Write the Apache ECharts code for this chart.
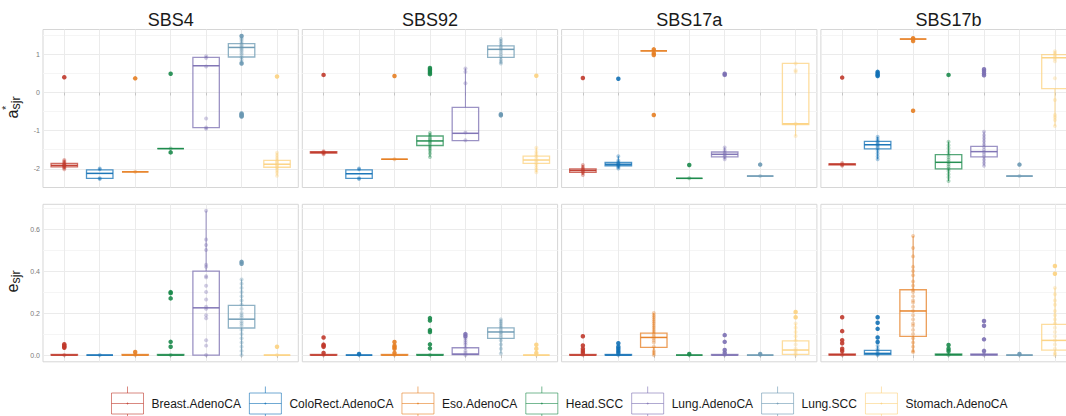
<!DOCTYPE html>
<html><head><meta charset="utf-8">
<script src="https://cdn.jsdelivr.net/npm/echarts@6/dist/echarts.min.js"></script>
<style>html,body{margin:0;padding:0;background:#fff}#c{width:1066px;height:416px}</style>
</head><body><div id="c"></div>
<script>
// ---------- DATA ----------
const categories = ['Breast.AdenoCA','ColoRect.AdenoCA','Eso.AdenoCA','Head.SCC','Lung.AdenoCA','Lung.SCC','Stomach.AdenoCA'];
const signatures = ['SBS4','SBS92','SBS17a','SBS17b'];
const aTicks = [-2,-1,0,1];
const aMinor = [-1.5,-0.5,0.5,1.5];
const eTicks = [0,0.2,0.4,0.6];
const eMinor = [0.1,0.3,0.5,0.7];

// box stats per category: [low, Q1, median, Q3, high]
const aBoxSBS4 = [[-2.00,-1.95,-1.91,-1.86,-1.78],[-2.28,-2.25,-2.12,-2.03,-1.99],[-2.08,-2.08,-2.08,-2.08,-2.08],[-1.47,-1.47,-1.47,-1.47,-1.47],[-0.95,-0.92,0.70,0.92,0.95],[0.78,0.93,1.18,1.28,1.45],[-2.18,-1.96,-1.88,-1.78,-1.58]];
const aBoxSBS92 = [[-1.62,-1.59,-1.57,-1.55,-1.54],[-2.27,-2.25,-2.13,-2.03,-1.99],[-1.75,-1.75,-1.75,-1.75,-1.75],[-1.69,-1.39,-1.27,-1.14,-1.06],[-1.27,-1.26,-1.07,-0.39,0.63],[0.76,0.92,1.13,1.22,1.40],[-2.09,-1.86,-1.77,-1.67,-1.45]];
const aBoxSBS17a = [[-2.16,-2.09,-2.04,-2.00,-1.90],[-1.99,-1.92,-1.88,-1.83,-1.67],[1.09,1.09,1.09,1.09,1.09],[-2.25,-2.25,-2.25,-2.25,-2.25],[-1.75,-1.69,-1.62,-1.56,-1.44],[-2.19,-2.19,-2.19,-2.19,-2.19],[-1.14,-0.84,-0.82,0.76,0.76]];
const aBoxSBS17b = [[-1.92,-1.90,-1.88,-1.87,-1.85],[-1.75,-1.48,-1.37,-1.28,-1.16],[1.40,1.40,1.40,1.40,1.40],[-2.32,-2.00,-1.83,-1.63,-1.29],[-1.92,-1.69,-1.55,-1.41,-1.03],[-2.19,-2.19,-2.19,-2.19,-2.19],[-0.88,0.10,0.91,0.99,1.08]];

const eBoxSBS4 = [[0,0,0,0.003,0.005],[0,0,0,0,0],[0,0,0,0.003,0.005],[0,0,0,0.003,0.005],[0,0,0.225,0.40,0.687],[0,0.129,0.171,0.237,0.36],[0,0,0,0,0]];
const eBoxSBS92 = [[0,0,0,0.003,0.005],[0,0,0,0,0],[0,0,0,0.003,0.005],[0,0,0,0.003,0.005],[0,0.002,0.005,0.035,0.085],[0.008,0.08,0.11,0.13,0.17],[0,0,0,0,0]];
const eBoxSBS17a = [[0,0,0,0.003,0.005],[0,0,0,0.003,0.005],[0,0.037,0.084,0.105,0.20],[0,0,0,0,0],[0,0,0,0.003,0.005],[0,0,0,0,0],[0,0.003,0.024,0.068,0.15]];
const eBoxSBS17b = [[0,0,0.002,0.005,0.01],[0,0.002,0.008,0.022,0.045],[0.014,0.089,0.21,0.311,0.567],[0,0,0.002,0.005,0.01],[0,0,0.002,0.005,0.01],[0,0,0,0,0],[0,0.024,0.07,0.146,0.32]];

// observed points per category
const aPtsSBS4 = [
 [0.40,-1.77,-1.80,-1.83,-1.86,-1.88,-1.90,-1.91,-1.92,-1.94,-1.96,-1.98,-2.01],
 [-1.99,-2.01,-2.25,-2.27],
 [0.37,-2.08],
 [0.49,-1.47,-1.57],
 [0.95,0.90,0.68,-0.68,-0.92,-0.95],
 [1.48,1.42,1.38,1.33,1.28,1.24,1.20,1.16,1.12,1.08,1.03,0.98,0.92,0.86,0.80,0.76,-0.55,-0.58,-0.61,-0.63],
 [0.42,-1.58,-1.65,-1.72,-1.78,-1.82,-1.86,-1.90,-1.94,-1.98,-2.04,-2.10,-2.18]];
const aPtsSBS92 = [
 [0.46,-1.54,-1.56,-1.58,-1.60,-1.62],
 [-1.99,-2.01,-2.25,-2.27],
 [0.43,-1.75],
 [0.64,0.60,0.56,0.52,0.48,-1.06,-1.12,-1.18,-1.22,-1.26,-1.30,-1.34,-1.40,-1.46,-1.52,-1.60,-1.69],
 [0.63,0.54,0.24,-1.05,-1.25],
 [1.40,1.34,1.28,1.22,1.17,1.12,1.06,1.00,0.94,0.86,0.80,0.76,-0.57,-0.60],
 [0.44,-1.45,-1.55,-1.62,-1.68,-1.74,-1.79,-1.84,-1.90,-1.97,-2.03,-2.09]];
const aPtsSBS17a = [
 [0.38,-1.90,-1.95,-1.99,-2.02,-2.05,-2.08,-2.11,-2.16],
 [0.36,-1.67,-1.78,-1.83,-1.86,-1.88,-1.90,-1.93,-1.96,-1.99],
 [1.13,1.09,1.03,0.98,-0.59],
 [-1.90,-2.25],
 [0.49,0.46,-1.44,-1.52,-1.58,-1.62,-1.66,-1.70,-1.75],
 [-1.89,-2.19],
 [0.76,0.58,0.54,-0.82,-1.14]];
const aPtsSBS17b = [
 [0.39,-1.85,-1.88,-1.90,-1.92],
 [0.54,0.50,0.46,0.43,-1.16,-1.22,-1.27,-1.31,-1.35,-1.38,-1.42,-1.46,-1.52,-1.60,-1.68,-1.75],
 [1.42,1.40,1.35,-0.48],
 [0.46,-1.29,-1.38,-1.46,-1.55,-1.63,-1.70,-1.76,-1.82,-1.88,-1.94,-2.00,-2.06,-2.14,-2.22,-2.32],
 [0.61,0.56,0.50,0.45,-1.03,-1.12,-1.20,-1.28,-1.36,-1.43,-1.50,-1.56,-1.62,-1.68,-1.76,-1.84,-1.92],
 [-1.89,-2.19],
 [1.08,1.03,0.98,0.93,0.88,0.82,0.37,-0.20,-0.59,-0.65,-0.72,-0.88]];

const ePtsSBS4 = [
 [0,0.035,0.040,0.045,0.052],
 [0],
 [0,0.008,0.015],
 [0,0.04,0.063,0.27,0.295,0.30],
 [0.687,0.55,0.524,0.50,0.43,0.42,0.376,0.37,0.33,0.30,0.265,0.23,0.22,0.19,0.175,0.071,0.045,0],
 [0.444,0.435,0.36,0.34,0.32,0.30,0.28,0.26,0.24,0.22,0.20,0.19,0.18,0.16,0.15,0.14,0.12,0.10,0.08,0.06,0.04,0.02,0],
 [0,0.04]];
const ePtsSBS92 = [
 [0,0.01,0.04,0.045,0.05,0.084],
 [0,0.005],
 [0,0.01,0.03,0.037,0.045,0.062],
 [0,0.032,0.051,0.11,0.119,0.165,0.176],
 [0,0.01,0.02,0.035,0.05,0.06,0.07,0.08,0.09,0.10],
 [0.008,0.03,0.05,0.07,0.085,0.095,0.105,0.11,0.12,0.13,0.14,0.15,0.16,0.17],
 [0,0.01,0.03,0.049]];
const ePtsSBS17a = [
 [0,0.01,0.02,0.03,0.046,0.09],
 [0,0.01,0.02,0.03,0.04,0.056],
 [0,0.01,0.02,0.04,0.06,0.07,0.08,0.09,0.10,0.11,0.12,0.13,0.14,0.15,0.16,0.17,0.18,0.19,0.20],
 [0,0.005],
 [0,0.01,0.024,0.063,0.095],
 [0,0.005],
 [0,0.01,0.02,0.03,0.05,0.07,0.09,0.11,0.13,0.15,0.18,0.205]];
const ePtsSBS17b = [
 [0,0.01,0.02,0.03,0.056,0.071,0.114,0.18],
 [0,0.005,0.01,0.02,0.03,0.045,0.062,0.084,0.125,0.154,0.18],
 [0.567,0.51,0.47,0.42,0.40,0.38,0.35,0.33,0.31,0.30,0.28,0.26,0.25,0.23,0.21,0.19,0.17,0.15,0.14,0.12,0.10,0.08,0.06,0.04,0.02,0.014],
 [0,0.01,0.02,0.03,0.048],
 [0,0.01,0.02,0.075,0.14,0.162],
 [0,0.005],
 [0.424,0.387,0.32,0.29,0.26,0.24,0.21,0.19,0.17,0.15,0.13,0.11,0.09,0.07,0.05,0.03,0.01,0]];

// ---------- STYLE ----------
const colors = ['#C0392B','#1170B5','#E67E22','#1B8A4B','#7B6FB2','#6A98B2','#FCD27F'];
const FONT = 'Liberation Sans, Arial, sans-serif';
const colLeft = [43, 302.3, 561.6, 820.9];
const colW = 255.3;
const rowTop = [29.5, 204.3];
const rowH = [158, 157.5];

const rows = [
  {boxes:[aBoxSBS4,aBoxSBS92,aBoxSBS17a,aBoxSBS17b], pts:[aPtsSBS4,aPtsSBS92,aPtsSBS17a,aPtsSBS17b], min:-2.49, max:1.65, ticks:aTicks, minor:aMinor, fmt:v=>String(v)},
  {boxes:[eBoxSBS4,eBoxSBS92,eBoxSBS17a,eBoxSBS17b], pts:[ePtsSBS4,ePtsSBS92,ePtsSBS17a,ePtsSBS17b], min:-0.032, max:0.718, ticks:eTicks, minor:eMinor, fmt:v=>Number(v).toFixed(1)}
];

function renderBox(params, api) {
  const x = api.value(0);
  const col = colors[api.value(6)];
  const half = api.size([1, 0])[0] * 0.373;
  const pLow = api.coord([x, api.value(1)]);
  const pQ1 = api.coord([x, api.value(2)]);
  const pMed = api.coord([x, api.value(3)]);
  const pQ3 = api.coord([x, api.value(4)]);
  const pHigh = api.coord([x, api.value(5)]);
  const cx = pMed[0];
  const lineS = {stroke: col, lineWidth: 1, opacity: 0.8};
  return {type: 'group', children: [
    {type: 'line', shape: {x1: cx, y1: pHigh[1], x2: cx, y2: pQ3[1]}, style: lineS},
    {type: 'line', shape: {x1: cx, y1: pQ1[1], x2: cx, y2: pLow[1]}, style: lineS},
    {type: 'rect', shape: {x: cx - half, y: pQ3[1], width: 2 * half, height: pQ1[1] - pQ3[1]}, style: {fill: 'none', stroke: col, lineWidth: 1.3, opacity: 0.75}},
    {type: 'line', shape: {x1: cx - half, y1: pMed[1], x2: cx + half, y2: pMed[1]}, style: {stroke: col, lineWidth: 1.5, opacity: 0.95}}
  ]};
}

const grid = [], xAxis = [], yAxis = [], series = [], graphic = [];
rows.forEach((row, r) => {
  const customY = row.ticks.concat(row.minor).sort((a, b) => a - b);
  signatures.forEach((sig, c) => {
    const g = r * 4 + c;
    grid.push({left: colLeft[c], top: rowTop[r], width: colW, height: rowH[r], show: true,
      borderColor: '#D6D6D6', borderWidth: 1, backgroundColor: '#fff', containLabel: false, outerBoundsMode: 'none'});
    xAxis.push({type: 'value', gridIndex: g, min: 0.4, max: 7.6,
      axisLine: {show: false},
      axisTick: {show: true, length: 3, customValues: [1,2,3,4,5,6,7], lineStyle: {color: '#C4C4C4', width: 1}},
      axisLabel: {show: false},
      splitLine: {show: true, lineStyle: {color: '#EBEBEB', width: 1}}});
    yAxis.push({type: 'value', gridIndex: g, min: row.min, max: row.max,
      axisLine: {show: false},
      axisTick: {show: false, customValues: customY},
      axisLabel: {show: c === 0, customValues: row.ticks, formatter: row.fmt, fontSize: 7, color: '#7A7A7A', margin: 3, fontFamily: FONT},
      splitLine: {show: true, lineStyle: {color: ['#EBEBEB', '#F5F5F5'], width: 1}}});
    series.push({type: 'custom', xAxisIndex: g, yAxisIndex: g, renderItem: renderBox, clip: false, silent: true, z: 2,
      encode: {x: 0, y: 3},
      data: row.boxes[c].map((b, i) => [i + 1, b[0], b[1], b[2], b[3], b[4], i])});
    row.pts[c].forEach((vals, i) => {
      const b = row.boxes[c][i];
      const tol = (row.max - row.min) * 0.004;
      series.push({type: 'scatter', name: categories[i], xAxisIndex: g, yAxisIndex: g, silent: true, z: 3,
        symbol: 'circle', symbolSize: 4, itemStyle: {color: colors[i]},
        data: vals.map(v => {
          const outlier = v < b[0] - tol || v > b[4] + tol;
          return {value: [i + 1, v], symbolSize: outlier ? 4.5 : 4, itemStyle: {opacity: outlier ? 0.9 : 0.35}};
        })});
    });
    if (r === 0) {
      graphic.push({type: 'text', x: colLeft[c] + colW / 2, y: 19.5,
        style: {text: sig, fontSize: 18, fontFamily: FONT, fill: '#1a1a1a', align: 'center', verticalAlign: 'middle'}});
    }
  });
});

// y-axis titles (rotated, with sub/superscripts)
function yTitle(mainChar, sx, sy, sup) {
  const children = [
    {type: 'text', x: 0, y: 0, style: {text: mainChar, fontSize: 16, fontFamily: FONT, fill: '#1a1a1a', align: 'left', verticalAlign: 'middle'}},
    {type: 'text', x: 9, y: 3, style: {text: 'sjr', fontSize: 12.5, fontFamily: FONT, fill: '#1a1a1a', align: 'left', verticalAlign: 'middle'}}
  ];
  if (sup) children.push({type: 'text', x: 8.5, y: -6.5, style: {text: '*', fontSize: 11, fontFamily: FONT, fill: '#1a1a1a', align: 'left', verticalAlign: 'middle'}});
  return {type: 'group', x: sx, y: sy, rotation: Math.PI / 2, children};
}
graphic.push(yTitle('a', 12.5, 118.5, true));
graphic.push(yTitle('e', 12.5, 292.5, false));

// legend key: box with whiskers, median and centre dot; an empty move to x=35 widens the key to leave the text gap
const legendPath = 'path://M0,6.5L32,6.5L32,27.5L0,27.5Z M16,0L16,6.5 M16,27.5L16,34 M0,17L32,17 M15.5,16.5L16.5,16.5L16.5,17.5L15.5,17.5Z M35,17L35,17';

const option = {
  animation: false,
  backgroundColor: '#fff',
  grid, xAxis, yAxis, series, graphic,
  legend: {
    left: 111, top: 386, padding: 0, itemWidth: 35, itemHeight: 34, itemGap: 8, selectedMode: false,
    textStyle: {fontSize: 12, color: '#1a1a1a', fontFamily: FONT},
    data: categories.map((n, i) => ({name: n, icon: legendPath,
      itemStyle: {color: 'rgba(0,0,0,0)', borderColor: colors[i], borderWidth: 1, opacity: 0.6}}))
  }
};
const chart = echarts.init(document.getElementById('c'), null, {renderer: 'svg'});
chart.setOption(option);
</script></body></html>
